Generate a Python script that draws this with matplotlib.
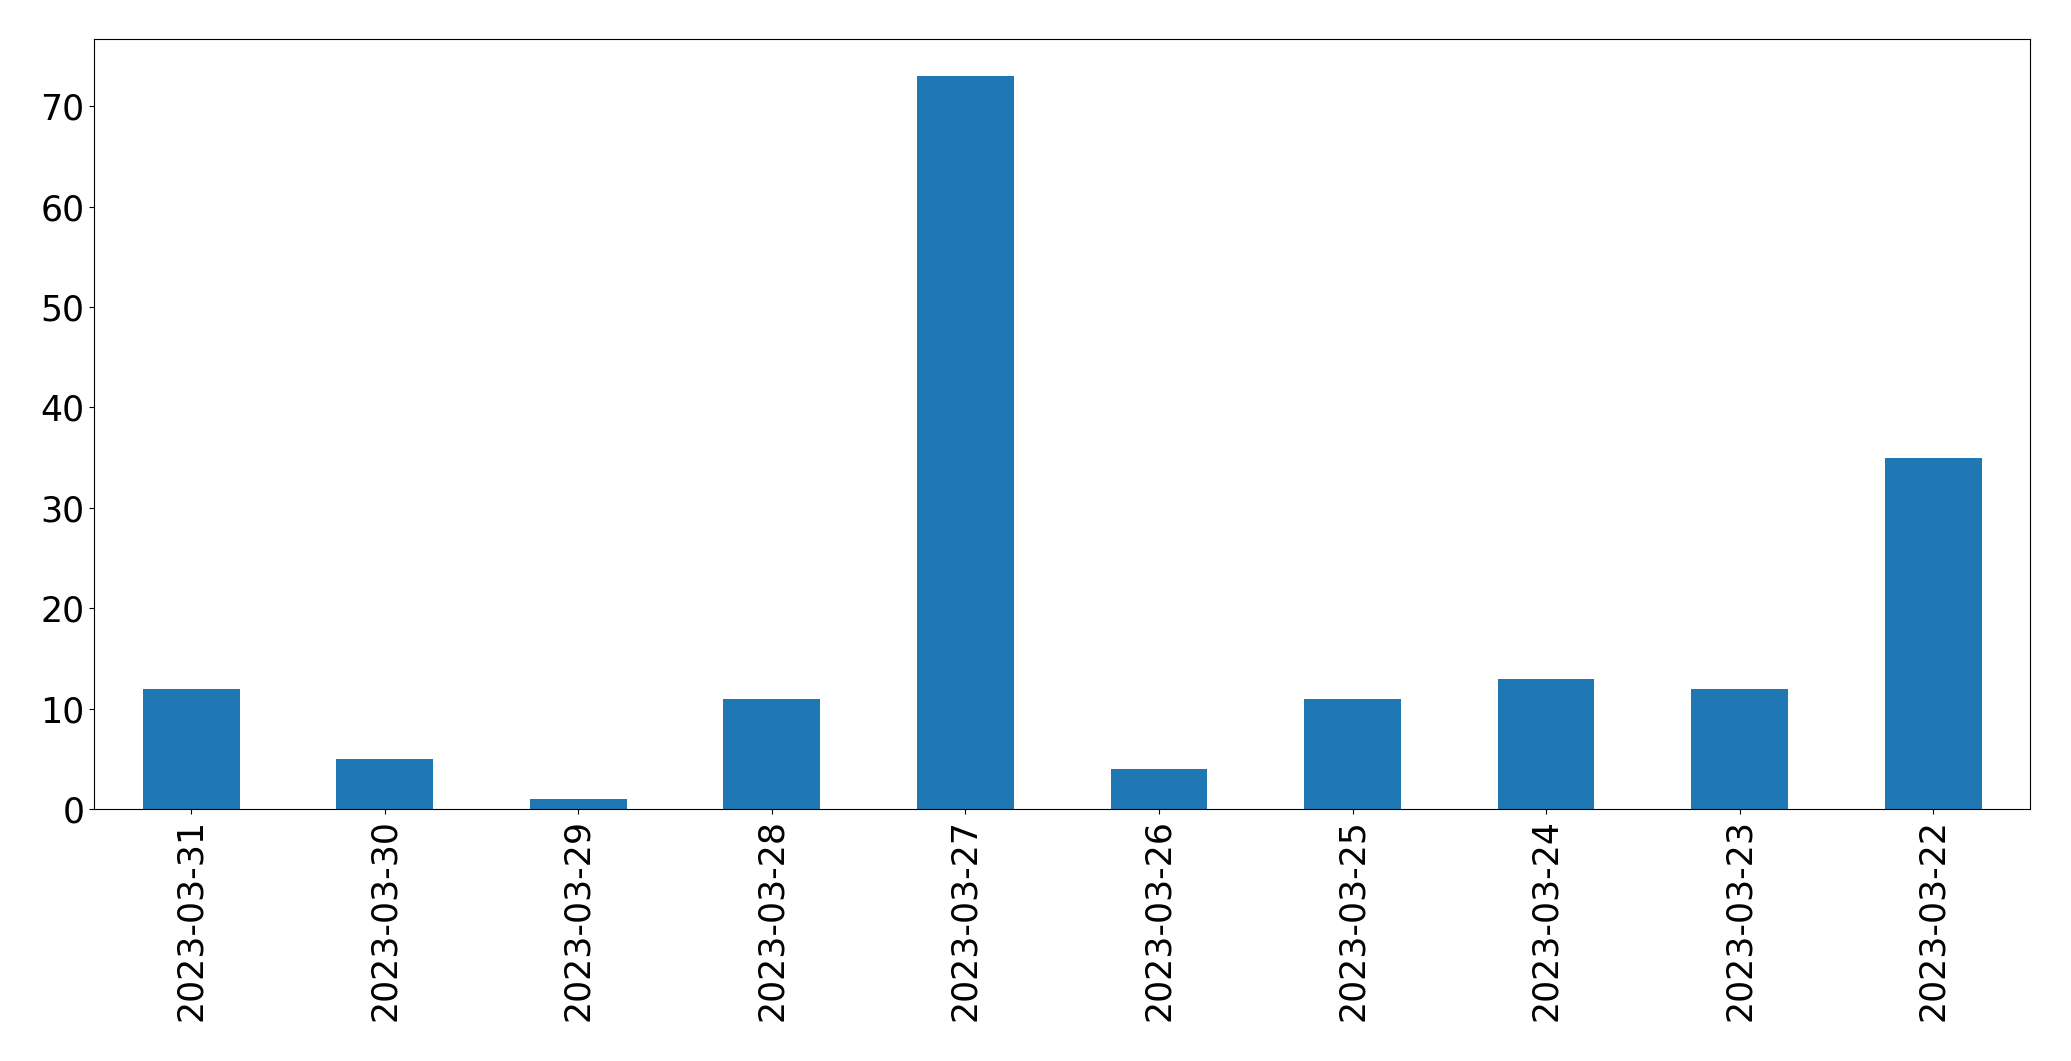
import matplotlib
matplotlib.use('Agg')
import matplotlib.pyplot as plt
import pandas as pd

dates = ['2023-03-31', '2023-03-30', '2023-03-29', '2023-03-28', '2023-03-27',
         '2023-03-26', '2023-03-25', '2023-03-24', '2023-03-23', '2023-03-22']
counts = [12, 5, 1, 11, 73, 4, 11, 13, 12, 35]

s = pd.Series(counts, index=dates)

fig, ax = plt.subplots(figsize=(20.71, 10.61), dpi=100)
s.plot(kind='bar', ax=ax, color='#1f77b4', fontsize=25)
plt.subplots_adjust(left=0.0456, right=0.9802, top=0.963, bottom=0.2372)
fig.savefig('out.png', dpi=100)
